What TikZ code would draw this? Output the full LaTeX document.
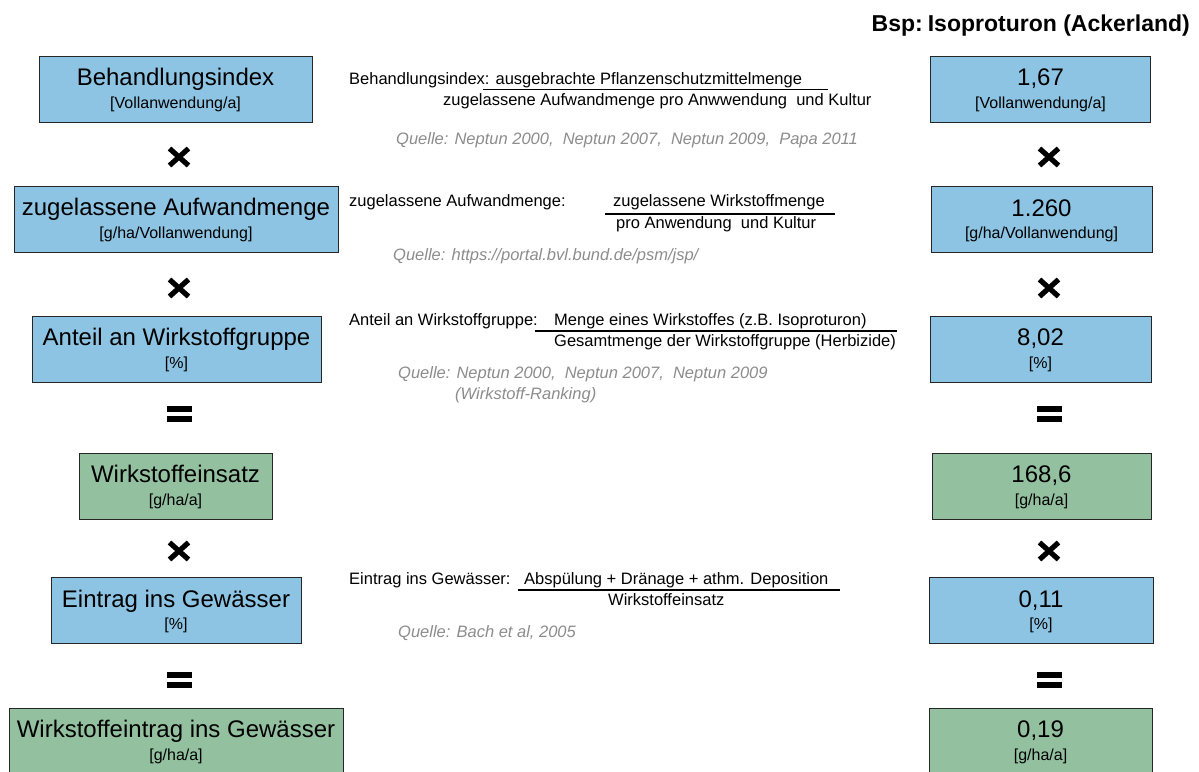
\documentclass[tikz,border=0pt]{standalone}
\usepackage{fontspec}
\setmainfont{Liberation Sans}
\definecolor{boxblue}{RGB}{141,196,227}
\definecolor{boxgreen}{RGB}{147,193,160}
\definecolor{qgray}{RGB}{140,140,140}
\tikzset{
  pics/multsign/.style={code={\draw[line width=5.2pt] (-9.5,-8.5) -- (9.5,8.5) (-9.5,8.5) -- (9.5,-8.5);}},
  pics/eqsign/.style={code={\fill (-12.5,-8) rectangle (12.5,-2); \fill (-12.5,2) rectangle (12.5,8);}}
}
\begin{document}
\begin{tikzpicture}[x=1pt,y=-1pt,
  box/.style={draw=black!85, line width=1pt, inner sep=0pt, minimum height=66pt},
  bluebox/.style={box, fill=boxblue},
  greenbox/.style={box, fill=boxgreen},
  maintxt/.style={anchor=base, inner sep=0pt, font=\fontsize{24}{28}\selectfont},
  subtxt/.style={anchor=base, inner sep=0pt, font=\fontsize{16}{19}\selectfont},
  midtxt/.style={anchor=base west, inner sep=0pt, font=\fontsize{16.5}{19}\selectfont},
  srctxt/.style={anchor=base west, inner sep=0pt, text=qgray, font=\fontsize{16.5}{19}\selectfont\itshape},
  fracline/.style={line width=1.8pt}
]
\useasboundingbox (0,0) rectangle (1199,771);

% header
\node[anchor=base east, inner sep=0pt, font=\fontsize{23}{27}\selectfont\bfseries] (hdr) at (1190,31) {Bsp:\hspace{-0.15em} Isoproturon (Ackerland)};

% left boxes
\node[bluebox, minimum width=273pt] (L1) at (175.5,89) {};
\node[maintxt] (L1a) at ([yshift=-30pt]L1.north) {Behandlungsindex};
\node[subtxt] (L1b) at ([yshift=-52.5pt]L1.north) {[Vollanwendung/a]};

\node[bluebox, minimum width=324pt] (L2) at (176,219) {};
\node[maintxt] (L2a) at ([yshift=-30pt]L2.north) {zugelassene Aufwandmenge};
\node[subtxt] (L2b) at ([yshift=-52.5pt]L2.north) {[g/ha/Vollanwendung]};

\node[bluebox, minimum width=289pt] (L3) at (176.5,349) {};
\node[maintxt] (L3a) at ([yshift=-30pt]L3.north) {Anteil an Wirkstoffgruppe};
\node[subtxt] (L3b) at ([yshift=-52.5pt]L3.north) {[\%]};

\node[greenbox, minimum width=193pt] (L4) at (175.5,486) {};
\node[maintxt] (L4a) at ([yshift=-30pt]L4.north) {Wirkstoffeinsatz};
\node[subtxt] (L4b) at ([yshift=-52.5pt]L4.north) {[g/ha/a]};

\node[bluebox, minimum width=250pt] (L5) at (176,610.5) {};
\node[maintxt] (L5a) at ([yshift=-30pt]L5.north) {Eintrag ins Gewässer};
\node[subtxt] (L5b) at ([yshift=-52.5pt]L5.north) {[\%]};

\node[greenbox, minimum width=334pt] (L6) at (176,741) {};
\node[maintxt] (L6a) at ([yshift=-30pt]L6.north) {Wirkstoffeintrag ins Gewässer};
\node[subtxt] (L6b) at ([yshift=-52.5pt]L6.north) {[g/ha/a]};

% right boxes
\node[bluebox, minimum width=220pt] (R1) at (1040.5,89) {};
\node[maintxt] (R1a) at ([yshift=-30pt]R1.north) {1,67};
\node[subtxt] (R1b) at ([yshift=-52.5pt]R1.north) {[Vollanwendung/a]};

\node[bluebox, minimum width=221pt] (R2) at (1041.5,219.5) {};
\node[maintxt] (R2a) at ([yshift=-30pt]R2.north) {1.260};
\node[subtxt] (R2b) at ([yshift=-52.5pt]R2.north) {[g/ha/Vollanwendung]};

\node[bluebox, minimum width=221pt] (R3) at (1040.5,349) {};
\node[maintxt] (R3a) at ([yshift=-30pt]R3.north) {8,02};
\node[subtxt] (R3b) at ([yshift=-52.5pt]R3.north) {[\%]};

\node[greenbox, minimum width=219pt] (R4) at (1041.5,486) {};
\node[maintxt] (R4a) at ([yshift=-30pt]R4.north) {168,6};
\node[subtxt] (R4b) at ([yshift=-52.5pt]R4.north) {[g/ha/a]};

\node[bluebox, minimum width=224pt] (R5) at (1041,610.5) {};
\node[maintxt] (R5a) at ([yshift=-30pt]R5.north) {0,11};
\node[subtxt] (R5b) at ([yshift=-52.5pt]R5.north) {[\%]};

\node[greenbox, minimum width=223pt] (R6) at (1040.5,741) {};
\node[maintxt] (R6a) at ([yshift=-30pt]R6.north) {0,19};
\node[subtxt] (R6b) at ([yshift=-52.5pt]R6.north) {[g/ha/a]};

% operators
\pic (opL1) at (179,157) {multsign};
\pic (opL2) at (179,288) {multsign};
\pic (opL3) at (179,414) {eqsign};
\pic (opL4) at (179,551) {multsign};
\pic (opL5) at (179,680) {eqsign};
\pic (opR1) at (1049,157) {multsign};
\pic (opR2) at (1049,288) {multsign};
\pic (opR3) at (1049,414) {eqsign};
\pic (opR4) at (1049,551) {multsign};
\pic (opR5) at (1049,680) {eqsign};

% block 1
\node[midtxt] (t1a) at (349,84) {Behandlungsindex: ausgebrachte Pflanzenschutzmittelmenge};
\coordinate (f1a) at (483,89.5);
\coordinate (f1b) at (828,89.5);
\draw[fracline] (f1a) -- (f1b);
\node[midtxt] (t1b) at (443,105) {zugelassene Aufwandmenge pro Anwwendung\ \ und Kultur};
\node[srctxt] (q1) at (396,144) {Quelle: Neptun 2000,\ \ Neptun 2007,\ \ Neptun 2009,\ \ Papa 2011};

% block 2
\node[midtxt] (t2a) at (349,206) {zugelassene Aufwandmenge:};
\node[midtxt] (t2n) at (613,206) {zugelassene Wirkstoffmenge};
\coordinate (f2a) at (605,214);
\coordinate (f2b) at (835,214);
\draw[fracline] (f2a) -- (f2b);
\node[midtxt] (t2d) at (616,228) {pro Anwendung\ \ und Kultur};
\node[srctxt] (q2) at (393,260) {Quelle: https://portal.bvl.bund.de/psm/jsp/};

% block 3
\node[midtxt] (t3a) at (349,325) {Anteil an Wirkstoffgruppe:};
\node[midtxt] (t3n) at (554,325) {Menge eines Wirkstoffes (z.B. Isoproturon)};
\coordinate (f3a) at (535,331);
\coordinate (f3b) at (897,331);
\draw[fracline] (f3a) -- (f3b);
\node[midtxt] (t3d) at (554,346) {Gesamtmenge der Wirkstoffgruppe (Herbizide)};
\node[srctxt] (q3) at (398,378) {Quelle: Neptun 2000,\ \ Neptun 2007,\ \ Neptun 2009};
\node[srctxt] (q3b) at (455,399) {(Wirkstoff-Ranking)};

% block 4
\node[midtxt] (t4a) at (349,584) {Eintrag ins Gewässer:};
\node[midtxt] (t4n) at (524,584) {Abspülung + Dränage + athm. Deposition};
\coordinate (f4a) at (518,590);
\coordinate (f4b) at (840,590);
\draw[fracline] (f4a) -- (f4b);
\node[midtxt] (t4d) at (608,605) {Wirkstoffeinsatz};
\node[srctxt] (q4) at (398,637) {Quelle: Bach et al, 2005};
\end{tikzpicture}
\end{document}
